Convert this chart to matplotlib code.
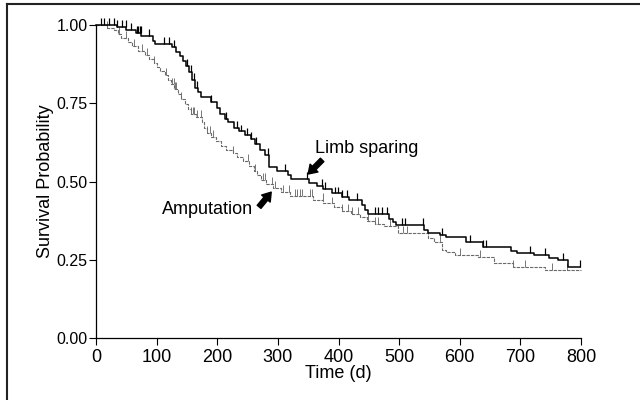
import numpy as np
import matplotlib
matplotlib.use("Agg")
import matplotlib.pyplot as plt
from matplotlib.lines import Line2D

plt.rcParams['font.family'] = ['Liberation Sans', 'DejaVu Sans']

# Kaplan-Meier steps: (day of drop, survival after it)
limb_t = [0, 35, 50, 66, 75, 94, 98, 126, 132, 138, 143, 148, 153, 158, 163, 168,
          173, 190, 200, 205, 212, 218, 228, 236, 245, 255, 262, 270, 278, 286, 298,
          316, 322, 352, 365, 375, 390, 405, 418, 438, 443, 448, 483, 490, 495, 541,
          548, 568, 578, 610, 638, 684, 695, 722, 748, 762, 778]
limb_s = [1.0, 0.994, 0.985, 0.974, 0.965, 0.95, 0.94, 0.93, 0.915, 0.90, 0.885,
          0.87, 0.85, 0.825, 0.80, 0.785, 0.77, 0.755, 0.735, 0.715, 0.70, 0.69,
          0.67, 0.66, 0.65, 0.635, 0.62, 0.60, 0.585, 0.545, 0.535, 0.52, 0.508,
          0.495, 0.485, 0.475, 0.462, 0.452, 0.44, 0.425, 0.41, 0.395, 0.38, 0.37,
          0.36, 0.345, 0.335, 0.328, 0.322, 0.307, 0.29, 0.278, 0.272, 0.265,
          0.257, 0.25, 0.228]
limb_end = 798
limb_cens = [8, 13, 21, 30, 35, 43, 49, 58, 68, 70, 72, 74, 87, 112, 120, 129, 150,
             157, 162, 167, 190, 214, 233, 239, 249, 256, 264, 284, 312, 348, 373,
             378, 394, 399, 406, 414, 430, 460, 465, 472, 480, 505, 510, 540, 571,
             617, 639, 643, 716, 741, 771, 798]

amp_t = [0, 18, 30, 36, 42, 52, 60, 70, 80, 88, 95, 100, 106, 113, 118, 124, 129,
         135, 140, 146, 152, 157, 165, 175, 178, 183, 190, 198, 206, 215, 226, 233,
         243, 252, 260, 266, 272, 280, 292, 305, 320, 358, 375, 392, 405, 420, 435,
         447, 460, 475, 498, 547, 558, 570, 578, 592, 630, 656, 688, 740]
amp_s = [1.0, 0.992, 0.985, 0.972, 0.958, 0.945, 0.932, 0.918, 0.905, 0.892, 0.878,
         0.865, 0.852, 0.84, 0.825, 0.81, 0.795, 0.78, 0.765, 0.748, 0.732, 0.715,
         0.705, 0.69, 0.672, 0.655, 0.642, 0.628, 0.615, 0.60, 0.59, 0.578, 0.565,
         0.55, 0.535, 0.52, 0.505, 0.492, 0.48, 0.468, 0.455, 0.44, 0.43, 0.418,
         0.405, 0.395, 0.385, 0.375, 0.365, 0.357, 0.335, 0.32, 0.306, 0.28, 0.275,
         0.265, 0.258, 0.24, 0.227, 0.217]
amp_end = 800
amp_cens = [18, 38, 49, 63, 76, 84, 96, 115, 125, 128, 130, 132, 140, 157, 160, 162,
            167, 173, 183, 188, 193, 226, 251, 262, 275, 279, 290, 295, 308, 318, 328,
            331, 336, 340, 353, 356, 374, 389, 406, 416, 422, 432, 449, 460, 465, 485,
            506, 513, 567, 600, 633, 688, 708, 752, 777]

x_ticks = [0, 100, 200, 300, 400, 500, 600, 700, 800]
y_ticks = [0.0, 0.25, 0.5, 0.75, 1.0]


def km_curve(ax, t, s, end, cens, color, lw, ls):
    t = np.array(t, dtype=float)
    s = np.array(s, dtype=float)
    ax.step(np.append(t, end), np.append(s, s[-1]), where='post',
            color=color, lw=lw, ls=ls, clip_on=False)
    idx = np.searchsorted(t, cens, side='right') - 1
    sc = s[idx]
    ax.vlines(cens, sc, sc + 0.022, color=color, lw=lw * 0.8, clip_on=False)


fig = plt.figure(figsize=(6.4, 4.0), dpi=100)
ax = fig.add_axes([96 / 640, 62 / 400, 485 / 640, 313 / 400])

km_curve(ax, amp_t, amp_s, amp_end, amp_cens, '#6a6a6a', 0.8, (0, (3, 1)))
km_curve(ax, limb_t, limb_s, limb_end, limb_cens, 'black', 1.1, '-')

ax.set_xlim(0, 800)
ax.set_ylim(0, 1.0)
ax.set_xticks(x_ticks)
ax.set_yticks(y_ticks)
ax.set_yticklabels(["%.2f" % v for v in y_ticks])
ax.tick_params(axis='x', length=5, width=0.8, pad=3, labelsize=13)
ax.tick_params(axis='y', length=5, width=0.8, pad=1, labelsize=11.5)
for side in ('top', 'right'):
    ax.spines[side].set_visible(False)
for side in ('left', 'bottom'):
    ax.spines[side].set_linewidth(0.9)

ax.set_xlabel("Time (d)", fontsize=13)
ax.xaxis.set_label_coords(0.5, -0.085)
ax.set_ylabel("Survival Probability", fontsize=13)
ax.yaxis.set_label_coords(-0.087, 0.5)

arrow = dict(arrowstyle='simple,head_length=0.6,head_width=0.8,tail_width=0.35',
             color='black', shrinkA=0, shrinkB=0, mutation_scale=10)
ax.annotate('', xy=(350, 0.524), xytext=(373, 0.569), arrowprops=arrow)
ax.annotate('', xy=(289, 0.466), xytext=(269, 0.419), arrowprops=arrow)
ax.text(361, 0.606, "Limb sparing", fontsize=13, ha='left', va='center')
ax.text(184, 0.412, "Amputation", fontsize=13, ha='center', va='center')

# outer box, only its top and left edges are inside the picture
fig.add_artist(Line2D([7 / 640, 1], [1 - 4 / 400, 1 - 4 / 400],
                      transform=fig.transFigure, color='#222222', lw=1.5))
fig.add_artist(Line2D([7 / 640, 7 / 640], [0, 1 - 4 / 400],
                      transform=fig.transFigure, color='#222222', lw=1.5))

fig.savefig("out.png", dpi=100)
